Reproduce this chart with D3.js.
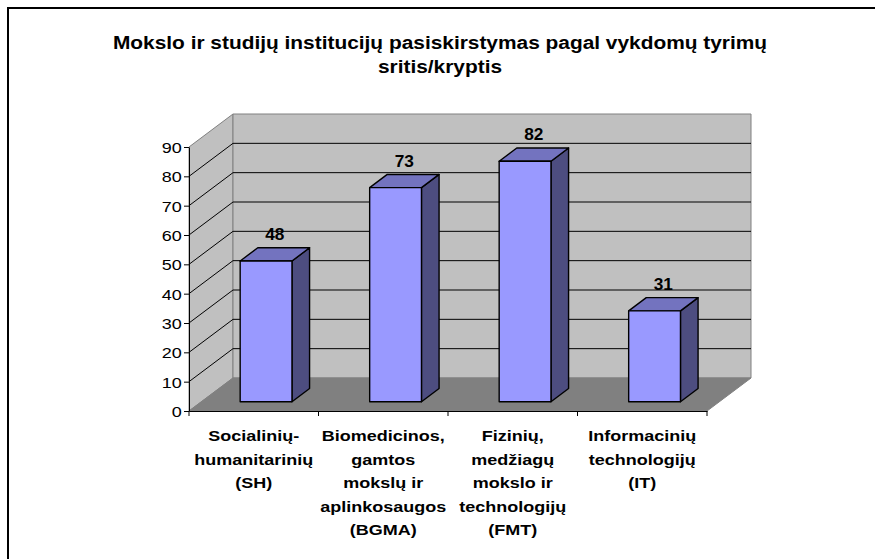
<!DOCTYPE html>
<html>
<head>
<meta charset="utf-8">
<script src="https://cdn.jsdelivr.net/npm/d3@7"></script>
<style>
  body { margin: 0; background: #fff; }
  text { font-family: "Liberation Sans", Arial, sans-serif; }
</style>
</head>
<body>
<div id="chart"></div>
<script>
const titleLines = ['Mokslo ir studijų institucijų pasiskirstymas pagal vykdomų tyrimų', 'sritis/kryptis'];
const categories = ['SH', 'BGMA', 'FMT', 'IT'];
const categoryLabels = [
  ['Socialinių-', 'humanitarinių', '(SH)'],
  ['Biomedicinos,', 'gamtos', 'mokslų ir', 'aplinkosaugos', '(BGMA)'],
  ['Fizinių,', 'medžiagų', 'mokslo ir', 'technologijų', '(FMT)'],
  ['Informacinių', 'technologijų', '(IT)']
];
const values = [48, 73, 82, 31];
const yTicks = [0, 10, 20, 30, 40, 50, 60, 70, 80, 90];

const width = 875;
const height = 559;

const svg = d3.select('#chart')
  .append('svg')
  .attr('width', width)
  .attr('height', height);

// outer frame
svg.append('rect')
  .attr('x', 8).attr('y', 8)
  .attr('width', 890).attr('height', 570)
  .attr('fill', '#fff')
  .attr('stroke', '#000')
  .attr('stroke-width', 2);

// title
svg.selectAll('.title')
  .data(titleLines)
  .enter()
  .append('text')
  .attr('class', 'title')
  .attr('transform', (d, i) => 'translate(440,' + (49 + i * 24) + ') scale(1.16,1)')
  .attr('text-anchor', 'middle')
  .attr('font-size', '18px')
  .attr('font-weight', 'bold')
  .attr('fill', '#000')
  .text(d => d);

const x0 = 189, x1 = 707;
const depthX = 44, depthY = -33;

const scaleX = d3.scaleBand()
  .domain(categories)
  .range([x0, x1]);

const scaleY = d3.scaleLinear()
  .domain([0, 90])
  .range([411, 147]);

const proj = (x, y, d) => [x + depthX * d, y + depthY * d];
const pts = arr => arr.map(p => p.join(',')).join(' ');

const yBottom = scaleY(0), yTop = scaleY(90);

// side wall, back wall, floor
svg.append('polygon')
  .attr('points', pts([proj(x0, yBottom, 0), proj(x0, yTop, 0), proj(x0, yTop, 1), proj(x0, yBottom, 1)]))
  .attr('fill', '#c0c0c0')
  .attr('stroke', '#808080');

svg.append('polygon')
  .attr('points', pts([proj(x0, yBottom, 1), proj(x0, yTop, 1), proj(x1, yTop, 1), proj(x1, yBottom, 1)]))
  .attr('fill', '#c0c0c0')
  .attr('stroke', '#808080');

svg.append('polygon')
  .attr('points', pts([proj(x0, yBottom, 0), proj(x1, yBottom, 0), proj(x1, yBottom, 1), proj(x0, yBottom, 1)]))
  .attr('fill', '#808080')
  .attr('stroke', '#808080');

// gridlines
svg.selectAll('.grid')
  .data(yTicks.filter(t => t > 0 && t < 90))
  .enter()
  .append('polyline')
  .attr('class', 'grid')
  .attr('points', d => pts([proj(x0, scaleY(d), 0), proj(x0, scaleY(d), 1), proj(x1, scaleY(d), 1)]))
  .attr('fill', 'none')
  .attr('stroke', '#000')
  .attr('stroke-width', 1);

// bars
const bw = scaleX.bandwidth();
const barW = bw * 0.4;
const df = 0.28, db = 0.68;

const bars = svg.selectAll('.bar')
  .data(values)
  .enter()
  .append('g')
  .attr('class', 'bar');

const left = (d, i) => scaleX(categories[i]) + (bw - barW) / 2;

bars.append('polygon')
  .attr('points', (d, i) => {
    const xl = left(d, i), xr = xl + barW, yt = scaleY(d);
    return pts([proj(xr, yt, df), proj(xr, yBottom, df), proj(xr, yBottom, db), proj(xr, yt, db)]);
  })
  .attr('fill', '#4d4d80');

bars.append('polygon')
  .attr('points', (d, i) => {
    const xl = left(d, i), xr = xl + barW, yt = scaleY(d);
    return pts([proj(xl, yt, df), proj(xr, yt, df), proj(xr, yt, db), proj(xl, yt, db)]);
  })
  .attr('fill', '#7373bf');

bars.append('polygon')
  .attr('points', (d, i) => {
    const xl = left(d, i), xr = xl + barW, yt = scaleY(d);
    return pts([proj(xl, yt, df), proj(xr, yt, df), proj(xr, yBottom, df), proj(xl, yBottom, df)]);
  })
  .attr('fill', '#9999ff');

bars.selectAll('polygon')
  .attr('stroke', '#000')
  .attr('stroke-width', 1.4)
  .attr('stroke-linejoin', 'round');

bars.append('text')
  .attr('transform', (d, i) => {
    const cx = scaleX(categories[i]) + bw / 2 + depthX * (df + db) / 2;
    const cy = scaleY(d) + depthY * df - 21;
    return 'translate(' + cx + ',' + cy + ') scale(1.08,1)';
  })
  .attr('text-anchor', 'middle')
  .attr('font-size', '16px')
  .attr('font-weight', 'bold')
  .attr('fill', '#000')
  .text(d => d);

// y axis
const yAxis = d3.axisLeft(scaleY)
  .tickValues(yTicks)
  .tickSize(5)
  .tickSizeOuter(0)
  .tickPadding(1);

const gy = svg.append('g')
  .attr('transform', 'translate(' + x0 + ',0)')
  .call(yAxis);
gy.selectAll('path, line').attr('stroke', '#000');
gy.selectAll('text')
  .attr('font-family', '"Liberation Sans", Arial, sans-serif')
  .attr('font-size', '15px')
  .attr('fill', '#000')
  .attr('x', -6)
  .attr('dy', '0.36em')
  .attr('transform', 'scale(1.2,1)');

// x axis
const xAxis = d3.axisBottom(scaleX)
  .tickSize(0)
  .tickSizeOuter(0)
  .tickFormat('');

const gx = svg.append('g')
  .attr('transform', 'translate(0,' + yBottom + ')')
  .call(xAxis);
gx.select('.domain').attr('stroke', '#000');

gx.selectAll('.bound')
  .data(categories.map(c => scaleX(c)).concat([scaleX.range()[1]]))
  .enter()
  .append('line')
  .attr('class', 'bound')
  .attr('x1', d => d).attr('x2', d => d)
  .attr('y1', 0).attr('y2', 5)
  .attr('stroke', '#000');

// category labels
const labels = svg.selectAll('.cat')
  .data(categoryLabels)
  .enter()
  .append('g')
  .attr('class', 'cat');

labels.selectAll('text')
  .data((d, i) => d.map((line, j) => ({ line, j, c: categories[i] })))
  .enter()
  .append('text')
  .attr('transform', d => 'translate(' + (scaleX(d.c) + bw / 2) + ',' + (441 + d.j * 23.5) + ') scale(1.2,1)')
  .attr('text-anchor', 'middle')
  .attr('font-size', '15px')
  .attr('font-weight', 'bold')
  .attr('fill', '#000')
  .text(d => d.line);
</script>
</body>
</html>
